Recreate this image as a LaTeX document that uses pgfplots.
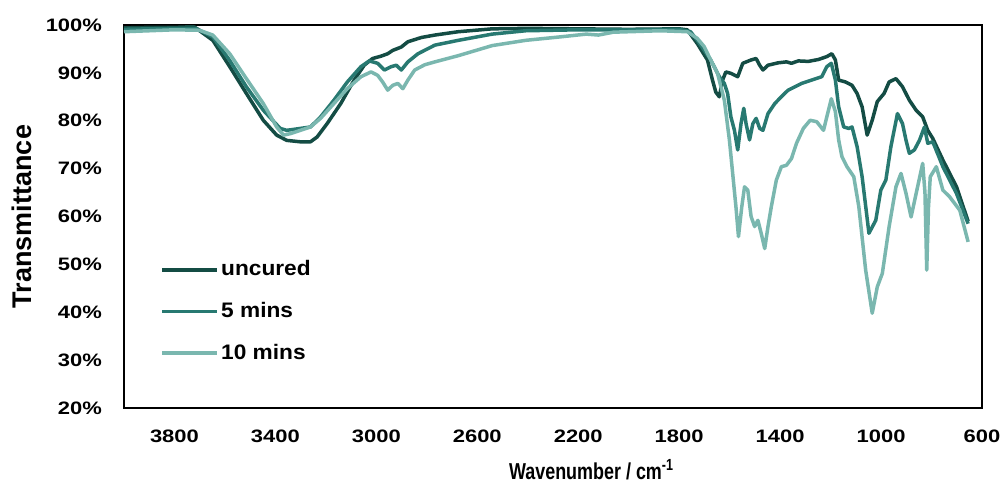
\documentclass[border=0pt]{standalone}
\usepackage{fontspec}
\setmainfont{Liberation Sans}
\newfontfamily\tickfont[FakeStretch=1.22]{Liberation Sans}
\newfontfamily\xlabfont[FakeStretch=0.78]{Liberation Sans}
\newfontfamily\legfont[FakeStretch=1.08]{Liberation Sans}
\usepackage{pgfplots}
\pgfplotsset{compat=1.18}
\definecolor{cUn}{RGB}{20,76,68}
\definecolor{cFive}{RGB}{40,121,113}
\definecolor{cTen}{RGB}{122,183,175}
\begin{document}
\begin{tikzpicture}
\begin{axis}[
  scale only axis, width=429pt, height=191.5pt,
  xmin=600, xmax=4000, x dir=reverse,
  ymin=20, ymax=100,
  xtick={600,1000,...,3800}, ytick={20,30,...,100},
  /pgf/number format/assume math mode=true,
  /pgf/number format/set thousands separator={},
  yticklabel={\pgfmathprintnumber{\tick}\%},
  ticklabel style={font=\tickfont\fontsize{9}{11}\selectfont\bfseries},
  yticklabel style={xshift=-7.5pt},
  xticklabel style={yshift=-7.5pt},
  major tick length=0pt,
  axis line style={line width=1pt},
  xlabel={Wavenumber / cm\textsuperscript{-1}},
  ylabel={Transmittance},
  every axis x label/.style={at={(axis description cs:0.545,0)}, yshift=-31pt, anchor=center,
    font=\xlabfont\fontsize{11.5}{13.5}\selectfont\bfseries},
  every axis y label/.style={at={(axis description cs:0,0.5)}, xshift=-51pt, rotate=90, anchor=center,
    font=\fontsize{13.5}{15.5}\selectfont\bfseries},
  legend cell align=left,
  legend image code/.code={\draw[#1, line width=1.7pt] (0pt,0pt) -- (27.5pt,0pt);},
  legend style={at={(0.042,0.252)}, anchor=west, draw=none, fill=none, inner sep=0pt,
    row sep=9.3pt, font=\legfont\fontsize{10.5}{12.5}\selectfont\bfseries, nodes={inner sep=1.2pt}},
  every axis plot/.append style={line width=1.75pt, line join=round},
]
\addplot[cUn] coordinates {
(4000,99.4) (3900,99.5) (3800,99.5) (3750,99.6) (3721,99.6) (3648,96.8) (3581,91.3)
(3515,85.7) (3448,80.1) (3395,77.0) (3355,75.9) (3301,75.6) (3261,75.6) (3235,76.6)
(3195,79.4) (3141,83.6) (3088,88.5) (3048,91.6) (3015,93.0) (2981,93.5) (2955,94.0)
(2935,94.7) (2901,95.4) (2875,96.5) (2821,97.4) (2768,97.9) (2675,98.6) (2541,99.2)
(2400,99.3) (2200,99.2) (2000,99.1) (1800,99.2) (1768,99.0) (1728,96.1) (1688,92.7)
(1668,88.5) (1655,86.0) (1641,85.0) (1628,88.5) (1615,90.2) (1595,89.9) (1568,89.2)
(1548,92.0) (1515,92.7) (1495,93.0) (1481,91.6) (1468,90.6) (1448,91.6) (1408,92.1)
(1375,92.3) (1355,92.0) (1328,92.5) (1288,92.4) (1248,92.8) (1215,93.4) (1195,94.0)
(1181,92.7) (1168,88.5) (1141,88.1) (1115,87.4) (1095,85.7) (1075,82.9) (1055,77.0)
(1035,80.1) (1015,84.0) (988,85.7) (968,88.1) (941,88.8) (915,87.1) (888,84.3)
(861,82.2) (835,80.8) (815,78.0) (795,76.3) (755,71.8) (701,66.2) (655,59.0)
};
\addlegendentry{uncured}
\addplot[cFive] coordinates {
(4000,99.1) (3900,99.2) (3800,99.3) (3715,99.3) (3648,97.5) (3581,92.6) (3515,87.1)
(3448,82.2) (3381,78.4) (3355,78.0) (3301,78.4) (3261,78.7) (3221,80.8) (3168,84.3)
(3115,88.1) (3061,91.3) (3028,92.5) (2995,92.0) (2968,90.6) (2941,91.3) (2921,91.6)
(2901,90.6) (2875,92.3) (2835,94.0) (2768,95.8) (2675,96.8) (2541,98.1) (2408,98.8)
(2200,99.0) (2000,99.0) (1800,99.1) (1755,98.6) (1728,96.8) (1675,92.7) (1641,89.2)
(1621,87.8) (1608,85.7) (1595,80.8) (1581,78.0) (1568,73.9) (1555,79.4) (1544,82.6)
(1535,79.4) (1521,76.0) (1508,79.4) (1495,80.5) (1481,78.4) (1468,78.0) (1448,81.5)
(1421,83.6) (1388,85.4) (1368,86.4) (1341,87.1) (1315,87.8) (1275,88.5) (1235,89.2)
(1215,91.3) (1197,92.0) (1181,88.5) (1168,82.9) (1148,78.7) (1128,78.4) (1115,78.7)
(1095,74.6) (1075,68.3) (1048,56.5) (1021,59.2) (1001,65.5) (981,67.6) (961,74.6)
(935,81.5) (915,79.4) (901,75.9) (888,73.2) (868,73.9) (848,75.9) (828,78.7)
(815,75.3) (795,75.6) (755,70.4) (701,64.8) (655,58.5)
};
\addlegendentry{5 mins}
\addplot[cTen] coordinates {
(4000,98.6) (3900,98.8) (3800,99.0) (3701,98.9) (3648,97.9) (3581,94.0) (3515,88.8)
(3448,83.6) (3395,78.7) (3368,77.0) (3341,77.3) (3301,78.0) (3261,78.7) (3221,80.5)
(3168,83.6) (3115,86.7) (3061,89.2) (3021,90.2) (2995,89.5) (2975,88.1) (2955,86.4)
(2935,87.4) (2915,87.8) (2895,86.7) (2875,88.5) (2848,90.6) (2808,91.7) (2768,92.3)
(2675,93.6) (2541,95.7) (2408,96.8) (2275,97.5) (2168,98.1) (2120,97.9) (2061,98.5)
(1875,98.8) (1768,98.6) (1728,97.2) (1701,95.5) (1675,92.7) (1648,89.9) (1621,84.3)
(1601,76.0) (1588,69.0) (1575,62.0) (1565,55.8) (1552,62.0) (1541,66.2) (1528,65.5)
(1515,60.0) (1501,57.9) (1488,59.2) (1475,56.5) (1461,53.3) (1448,57.9) (1435,62.0)
(1415,67.6) (1395,70.4) (1375,70.7) (1355,72.1) (1335,75.3) (1308,78.4) (1281,80.1)
(1255,79.8) (1228,78.0) (1215,80.8) (1197,84.6) (1181,81.9) (1168,76.0) (1155,72.5)
(1135,70.4) (1108,68.3) (1088,62.0) (1061,48.8) (1035,39.8) (1015,45.3) (995,48.1)
(968,57.9) (941,66.2) (921,69.0) (901,64.8) (881,59.9) (861,64.8) (835,71.1)
(826,65.0) (819,48.8) (812,62.0) (805,68.3) (781,70.4) (755,65.5) (728,64.1)
(688,61.3) (655,54.7)
};
\addlegendentry{10 mins}
\coordinate (O) at (rel axis cs:0,0);
\end{axis}
\pgfresetboundingbox
\path[use as bounding box] ([shift={(-62pt,-39pt)}]O) rectangle ++(502.5pt,243pt);
\end{tikzpicture}
\end{document}
